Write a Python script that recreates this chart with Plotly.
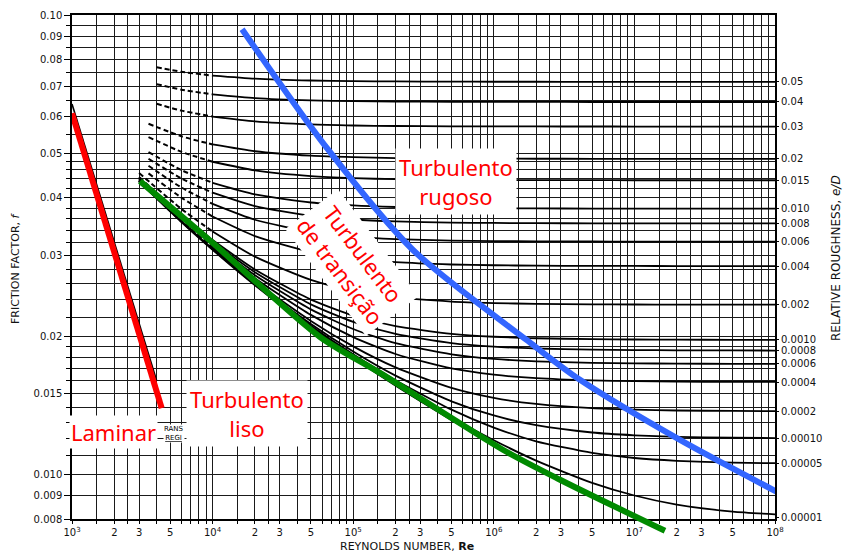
import plotly.graph_objects as go

# ---------------- data ----------------
# Reynolds numbers of the solid (fully turbulent) part of each roughness curve
re_solid = [1e4, 2e4, 5e4, 1e5, 2e5, 5e5, 1e6, 2e6, 5e6, 1e7, 2e7, 5e7, 1e8]
re_mid = 6e3  # intermediate point of dashed (critical zone) segment

rel_rough_labels = ["0.05", "0.04", "0.03", "0.02", "0.015", "0.010", "0.008", "0.006",
                    "0.004", "0.002", "0.0010", "0.0008", "0.0006", "0.0004", "0.0002",
                    "0.00010", "0.00005", "0.00001"]
re_start = [4e3, 4e3, 4e3, 3.5e3, 3.5e3, 3.5e3, 3.5e3, 3.5e3, 3.5e3,
            3e3, 3e3, 3e3, 3e3, 3e3, 3e3, 3e3, 3e3, 3e3]

# friction factor: [at start, at 6e3, then at each re_solid value]
f_0_05 = [0.07698, 0.07524, 0.07380, 0.07269, 0.07201, 0.07178, 0.07167, 0.07160, 0.07157, 0.07156, 0.07155, 0.07155, 0.07155, 0.07155, 0.07155]
f_0_04 = [0.07071, 0.06879, 0.06719, 0.06596, 0.06519, 0.06493, 0.06480, 0.06472, 0.06470, 0.06468, 0.06467, 0.06467, 0.06467, 0.06467, 0.06467]
f_0_03 = [0.06408, 0.06193, 0.06011, 0.05868, 0.05778, 0.05748, 0.05733, 0.05724, 0.05721, 0.05720, 0.05719, 0.05718, 0.05718, 0.05718, 0.05718]
f_0_02 = [0.05798, 0.05445, 0.05227, 0.05052, 0.04941, 0.04903, 0.04883, 0.04872, 0.04868, 0.04866, 0.04865, 0.04864, 0.04864, 0.04864, 0.04864]
f_0_015 = [0.05425, 0.05037, 0.04793, 0.04591, 0.04461, 0.04415, 0.04392, 0.04378, 0.04373, 0.04371, 0.04370, 0.04369, 0.04369, 0.04369, 0.04369]
f_0_01 = [0.05031, 0.04596, 0.04313, 0.04071, 0.03908, 0.03850, 0.03821, 0.03803, 0.03796, 0.03793, 0.03791, 0.03790, 0.03790, 0.03790, 0.03790]
f_0_008 = [0.04866, 0.04408, 0.04104, 0.03837, 0.03655, 0.03589, 0.03555, 0.03534, 0.03527, 0.03523, 0.03521, 0.03520, 0.03520, 0.03520, 0.03520]
f_0_006 = [0.04697, 0.04212, 0.03881, 0.03584, 0.03373, 0.03295, 0.03254, 0.03229, 0.03220, 0.03216, 0.03214, 0.03213, 0.03212, 0.03212, 0.03212]
f_0_004 = [0.04521, 0.04005, 0.03642, 0.03302, 0.03049, 0.02950, 0.02897, 0.02864, 0.02853, 0.02847, 0.02844, 0.02843, 0.02842, 0.02842, 0.02842]
f_0_002 = [0.04529, 0.03785, 0.03380, 0.02979, 0.02651, 0.02511, 0.02431, 0.02379, 0.02361, 0.02351, 0.02346, 0.02344, 0.02343, 0.02342, 0.02342]
f_0_001 = [0.04443, 0.03670, 0.03237, 0.02794, 0.02402, 0.02218, 0.02103, 0.02024, 0.01994, 0.01979, 0.01970, 0.01967, 0.01965, 0.01964, 0.01964]
f_0_0008 = [0.04425, 0.03647, 0.03209, 0.02756, 0.02346, 0.02148, 0.02022, 0.01931, 0.01897, 0.01880, 0.01869, 0.01865, 0.01863, 0.01862, 0.01861]
f_0_0006 = [0.04407, 0.03622, 0.03180, 0.02715, 0.02287, 0.02073, 0.01931, 0.01826, 0.01785, 0.01763, 0.01750, 0.01745, 0.01743, 0.01741, 0.01741]
f_0_0004 = [0.04390, 0.03598, 0.03150, 0.02674, 0.02225, 0.01991, 0.01829, 0.01701, 0.01649, 0.01620, 0.01602, 0.01596, 0.01592, 0.01590, 0.01590]
f_0_0002 = [0.04372, 0.03575, 0.03119, 0.02631, 0.02159, 0.01900, 0.01710, 0.01543, 0.01468, 0.01424, 0.01394, 0.01384, 0.01378, 0.01375, 0.01374]
f_0_0001 = [0.04361, 0.03563, 0.03104, 0.02610, 0.02125, 0.01852, 0.01641, 0.01443, 0.01344, 0.01280, 0.01234, 0.01217, 0.01207, 0.01202, 0.01200]
f_0_00005 = [0.04356, 0.03556, 0.03096, 0.02599, 0.02107, 0.01826, 0.01604, 0.01384, 0.01265, 0.01181, 0.01114, 0.01086, 0.01071, 0.01061, 0.01058]
f_0_00001 = [0.04352, 0.03552, 0.03090, 0.02590, 0.02093, 0.01804, 0.01572, 0.01330, 0.01187, 0.01072, 0.00959, 0.00900, 0.00860, 0.00830, 0.00819]

rough_curves = [f_0_05, f_0_04, f_0_03, f_0_02, f_0_015, f_0_01, f_0_008, f_0_006, f_0_004,
                f_0_002, f_0_001, f_0_0008, f_0_0006, f_0_0004, f_0_0002, f_0_0001, f_0_00005, f_0_00001]

# fully rough (asymptotic) friction factor where the right-axis labels sit
rough_asymptote_f = [0.07155, 0.06467, 0.05718, 0.04864, 0.04369, 0.03790, 0.03520, 0.03212,
                     0.02842, 0.02342, 0.01964, 0.01861, 0.01740, 0.01589, 0.01373, 0.01198,
                     0.01054, 0.00806]

# smooth pipe curve
re_smooth = [3e3, 6e3, 1e4, 2e4, 5e4, 1e5, 2e5, 5e5, 1e6, 2e6, 5e6, 1e7, 2e7]
f_smooth = [0.04350, 0.03551, 0.03090, 0.02588, 0.02090, 0.01799, 0.01564, 0.01317, 0.01165, 0.01037, 0.00898, 0.00810, 0.00735]

# laminar line (printed)
re_laminar = [1e3, 4e3]
f_laminar = [0.064, 0.016]

# hand-drawn coloured overlays
re_red = [1000, 4345]
f_red = [0.0611, 0.01394]
re_green = [3045, 9580, 5.81e4, 1.55e5, 1.16e6, 2.96e6, 1.65e7]
f_green = [0.0435, 0.0323, 0.01992, 0.01664, 0.01132, 0.00974, 0.00754]
re_blue = [1.62e4, 6.51e4, 2.66e5, 1.72e6, 4.10e6, 2.11e7, 1.03e8]
f_blue = [0.0931, 0.0513, 0.0308, 0.0196, 0.01607, 0.01189, 0.00917]

# axis ticks
x_grid_mult = [1, 1.5, 2, 2.5, 3, 4, 5, 6, 7, 8, 9]
x_label_mult = {2: "2", 3: "3", 5: "5"}
y_left_labels = {0.008: "0.008", 0.009: "0.009", 0.010: "0.010", 0.015: "0.015", 0.02: "0.02",
                 0.03: "0.03", 0.04: "0.04", 0.05: "0.05", 0.06: "0.06", 0.07: "0.07",
                 0.08: "0.08", 0.09: "0.09", 0.10: "0.10"}

# ---------------- figure ----------------
W, H = 843, 552
L, R, T, B = 72, 68, 15, 18          # paper area: x 72..775, y 15..534
PLOT_BOTTOM = 519                     # bottom of the plotting frame (pixels)
PW, PH = W - L - R, H - T - B
Y_RANGE = [-2.09691, -1.0]
PX_PER_DEC = (PLOT_BOTTOM - T) / (Y_RANGE[1] - Y_RANGE[0])
Y_RANGE_EXT = [Y_RANGE[0] - (H - B - PLOT_BOTTOM) / PX_PER_DEC, Y_RANGE[1]]
Y_DOMAIN = [(H - B - PLOT_BOTTOM) / PH, 1.0]

def px(xp):
    return (xp - L) / PW

def py(yp):
    return (H - B - yp) / PH

fig = go.Figure()

for f_vals, r0 in zip(rough_curves, re_start):
    fig.add_trace(go.Scatter(x=[r0, re_mid, re_solid[0]], y=f_vals[:3], mode="lines",
                             line=dict(color="black", width=2, dash="5px,3px", shape="spline", smoothing=0.6),
                             hoverinfo="skip"))
    fig.add_trace(go.Scatter(x=re_solid, y=f_vals[2:], mode="lines",
                             line=dict(color="black", width=1.8, shape="spline", smoothing=0.6),
                             hoverinfo="skip"))

fig.add_trace(go.Scatter(x=re_smooth, y=f_smooth, mode="lines",
                         line=dict(color="black", width=2.6, shape="spline", smoothing=0.6)))
fig.add_trace(go.Scatter(x=re_laminar, y=f_laminar, mode="lines",
                         line=dict(color="black", width=1.6)))

# coloured overlays
fig.add_trace(go.Scatter(x=re_red, y=f_red, mode="lines", line=dict(color="#ff0000", width=6)))
fig.add_trace(go.Scatter(x=re_blue, y=f_blue, mode="lines",
                         line=dict(color="#3366ff", width=6, shape="spline", smoothing=0.8)))

# invisible trace so the right axis is drawn
fig.add_trace(go.Scatter(x=[1e8] * len(rough_asymptote_f), y=rough_asymptote_f, mode="markers",
                         marker=dict(opacity=0), yaxis="y2", hoverinfo="skip"))

# green overlay on a same-scale axis pair that reaches a little below the frame
fig.add_trace(go.Scatter(x=re_green, y=f_green, mode="lines", xaxis="x2", yaxis="y3",
                         line=dict(color="#008a00", width=6, shape="spline", smoothing=0.8)))

# x ticks (labelled) and grid (minor, unlabelled)
x_tickvals, x_ticktext, x_minor = [], [], []
for d in range(3, 8):
    for m in x_grid_mult:
        v = m * 10 ** d
        if m == 1:
            x_tickvals.append(v)
            x_ticktext.append("10<sup>%d</sup>" % d)
        elif m in x_label_mult:
            x_tickvals.append(v)
            x_ticktext.append(x_label_mult[m])
        else:
            x_minor.append(v)
x_tickvals.append(1e8)
x_ticktext.append("10<sup>8</sup>")

# y grid
y_all = [round(0.008 + 0.001 * i, 3) for i in range(13)]
y_all += [round(0.022 + 0.002 * i, 3) for i in range(15)]
y_all += [round(0.055 + 0.005 * i, 3) for i in range(10)]
y_tickvals = [v for v in y_all if v in y_left_labels]
y_ticktext = [y_left_labels[v] for v in y_tickvals]
y_minor = [v for v in y_all if v not in y_left_labels]

tick_font = dict(family="DejaVu Sans", size=10, color="#111")
grid_col = "#1a1a1a"

fig.update_layout(
    width=W, height=H, autosize=False,
    margin=dict(l=L, r=R, t=T, b=B, pad=0),
    paper_bgcolor="white", plot_bgcolor="rgba(0,0,0,0)",
    showlegend=False,
    xaxis=dict(type="log", range=[3, 8], tickmode="array", tickvals=x_tickvals, ticktext=x_ticktext,
               showgrid=True, gridcolor=grid_col, gridwidth=1, zeroline=False, anchor="y",
               minor=dict(tickmode="array", tickvals=x_minor, showgrid=True, gridcolor=grid_col,
                          gridwidth=1, ticks="outside", ticklen=3, tickcolor="black"),
               showline=True, linecolor="black", linewidth=1.5, mirror=True,
               ticks="outside", ticklen=3, tickcolor="black", tickfont=tick_font, automargin=False),
    yaxis=dict(type="log", range=Y_RANGE, domain=Y_DOMAIN, tickmode="array",
               tickvals=y_tickvals, ticktext=y_ticktext,
               showgrid=True, gridcolor=grid_col, gridwidth=1, zeroline=False,
               minor=dict(tickmode="array", tickvals=y_minor, showgrid=True, gridcolor=grid_col,
                          gridwidth=1, ticks="outside", ticklen=4, tickcolor="black"),
               showline=True, linecolor="black", linewidth=1.5, mirror=True,
               ticks="outside", ticklen=6, tickcolor="black", tickfont=tick_font, automargin=False),
    yaxis2=dict(type="log", range=Y_RANGE, overlaying="y", side="right",
                tickmode="array", tickvals=rough_asymptote_f, ticktext=rel_rough_labels,
                showgrid=False, zeroline=False, showline=True, linecolor="black", linewidth=2,
                ticks="outside", ticklen=2, tickcolor="black", tickfont=tick_font, automargin=False),
    xaxis2=dict(type="log", range=[3, 8], domain=[0, 1], anchor="y3", visible=False),
    yaxis3=dict(type="log", range=Y_RANGE_EXT, domain=[0, 1], anchor="x2", visible=False),
)

red_font = dict(family="Noto Sans", size=22, color="#ff0000")
ann = [
    dict(x=px(456), y=py(181), text="Turbulento<br>rugoso", font=red_font),
    dict(x=px(352), y=py(262), text="Turbulento<br>de transição", font=red_font, textangle=53),
    dict(x=px(247), y=py(413), text="Turbulento<br>liso", font=red_font),
    dict(x=px(113), y=py(432), text="Laminar", font=red_font, borderpad=1),
    dict(x=px(174), y=py(433), text="RANS<br><u>REGI</u>",
         font=dict(family="DejaVu Sans", size=7, color="black"), borderpad=0),
    dict(x=px(15), y=py(268), text="FRICTION FACTOR, <i>f</i>", textangle=-90,
         font=dict(family="DejaVu Sans", size=11, color="#111"), bgcolor="rgba(0,0,0,0)"),
    dict(x=px(407), y=py(546), text="REYNOLDS NUMBER, <b>Re</b>",
         font=dict(family="DejaVu Sans", size=11, color="#111"), bgcolor="rgba(0,0,0,0)"),
    dict(x=px(836), y=py(258), text="RELATIVE ROUGHNESS, <i>e/D</i>", textangle=-90,
         font=dict(family="DejaVu Sans", size=12, color="#111"), bgcolor="rgba(0,0,0,0)"),
]
for a in ann:
    base = dict(xref="paper", yref="paper", showarrow=False, xanchor="center", yanchor="middle",
                bgcolor="white", borderpad=3, align="center")
    base.update(a)
    fig.add_annotation(**base)

fig.write_html("out.html", config={"displayModeBar": False},
               post_script="document.body.style.margin='0px';")
